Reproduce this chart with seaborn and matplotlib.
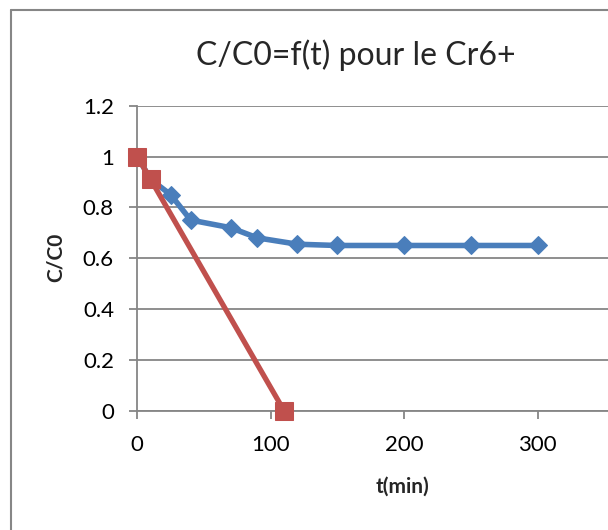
import matplotlib
matplotlib.use("Agg")
import matplotlib.pyplot as plt
from matplotlib.lines import Line2D
import seaborn as sns
import pandas as pd

# Kinetics of Cr6+ removal: relative concentration C/C0 over time
t_measured = [0, 10, 25, 40, 70, 90, 120, 150, 200, 250, 300]
c_measured = [1.0, 0.91, 0.85, 0.75, 0.72, 0.68, 0.655, 0.65, 0.65, 0.65, 0.65]

t_linear = [0, 10, 110]
c_linear = [1.0, 0.91, 0.0]

y_ticks = [0, 0.2, 0.4, 0.6, 0.8, 1.0, 1.2]
y_tick_labels = ["0", "0.2", "0.4", "0.6", "0.8", "1", "1.2"]
x_ticks = [0, 100, 200, 300]

title = "C/C0=f(t) pour le Cr6+"
x_label = "t(min)"
y_label = "C/C0"

blue = "#4A7EBB"
red = "#C0504D"
grid_grey = "#868686"

sns.set_theme(style="white")
plt.rcParams["font.family"] = ["Lato", "DejaVu Sans"]

W, H = 608, 530
fig = plt.figure(figsize=(W / 100, H / 100), dpi=100)

# plot area in pixel terms: x=0 at 137 px, y=0 at 410.7 px, y=1.2 at 105.7 px
px_per_x = 133.4 / 100
ax_left = 137.3
ax_bottom = 410.7
ax_top = 105.7
ax_right = ax_left + 400 * px_per_x
ax = fig.add_axes([ax_left / W, 1 - ax_bottom / H,
                   (ax_right - ax_left) / W, (ax_bottom - ax_top) / H])

df_measured = pd.DataFrame({"t": t_measured, "c": c_measured})
df_linear = pd.DataFrame({"t": t_linear, "c": c_linear})

sns.lineplot(data=df_measured, x="t", y="c", ax=ax, color=blue, lw=4,
             marker="D", markersize=9, markeredgecolor=blue,
             markerfacecolor=blue, clip_on=False, zorder=3)
sns.lineplot(data=df_linear, x="t", y="c", ax=ax, color=red, lw=3.8,
             marker="s", markersize=12.5, markeredgecolor=red,
             markerfacecolor=red, clip_on=False, zorder=4)

ax.set_xlim(0, 400)
ax.set_ylim(0, 1.2)
ax.set_xticks(x_ticks)
ax.set_yticks(y_ticks)
ax.set_yticklabels(y_tick_labels)

ax.grid(axis="y", color=grid_grey, lw=1.3)
ax.grid(axis="x", visible=False)
ax.set_axisbelow(True)
for side in ["top", "right"]:
    ax.spines[side].set_visible(False)
for side in ["left", "bottom"]:
    ax.spines[side].set_color(grid_grey)
    ax.spines[side].set_linewidth(1.3)

ax.tick_params(axis="both", which="major", direction="out", length=5.8,
               width=1.3, color=grid_grey, labelsize=16, labelcolor="black")
ax.tick_params(axis="y", left=True, pad=11)
ax.tick_params(axis="x", bottom=True, pad=12)

ax.set_xlabel(x_label, fontsize=15, fontweight="bold", va="center", ha="center")
ax.set_ylabel(y_label, fontsize=15, fontweight="bold", va="center", ha="center")
ax.xaxis.set_label_coords(402 / W, 1 - 487 / H, transform=fig.transFigure)
ax.yaxis.set_label_coords(56 / W, 1 - 257 / H, transform=fig.transFigure)

fig.text(356 / W, 1 - 55 / H, title, ha="center", va="center", fontsize=23)

# chart area frame (left and top edges)
fig.add_artist(Line2D([11 / W, 11 / W], [0, 1 - 10 / H], transform=fig.transFigure,
                      color=grid_grey, lw=1.5))
fig.add_artist(Line2D([11 / W, 1], [1 - 10 / H, 1 - 10 / H], transform=fig.transFigure,
                      color=grid_grey, lw=1.5))

fig.savefig("out.png", dpi=100)
